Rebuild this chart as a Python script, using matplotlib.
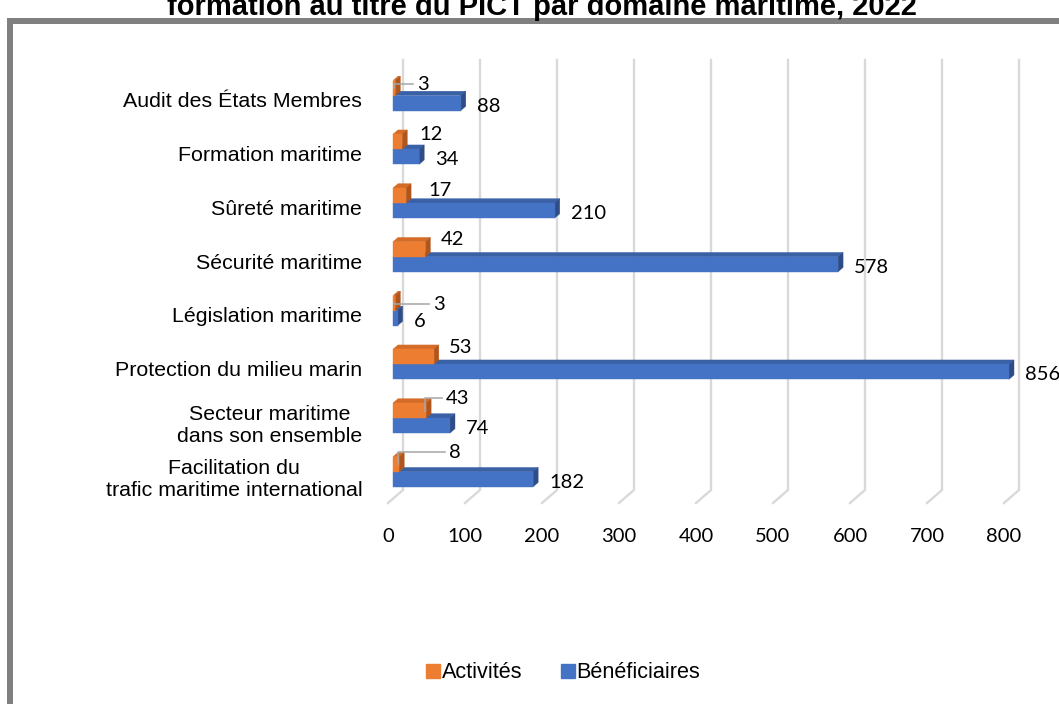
import numpy as np
import matplotlib
matplotlib.use("Agg")
import matplotlib.pyplot as plt
from matplotlib.patches import Polygon, Rectangle
from matplotlib.lines import Line2D

plt.rcParams['font.family'] = ['Liberation Sans', 'DejaVu Sans']

# ---- data ----
categories = [
    "Audit des États Membres",
    "Formation maritime",
    "Sûreté maritime",
    "Sécurité maritime",
    "Législation maritime",
    "Protection du milieu marin",
    "Secteur maritime\ndans son ensemble",
    "Facilitation du\ntrafic maritime international",
]
activites = [3, 12, 17, 42, 3, 53, 43, 8]
beneficiaires = [88, 34, 210, 578, 6, 856, 74, 182]
series_names = ["Activités", "Bénéficiaires"]
x_ticks = [0, 100, 200, 300, 400, 500, 600, 700, 800]
title = "formation au titre du PICT par domaine maritime, 2022"

# ---- style ----
ORANGE = dict(front="#ED7D31", top="#D46C27", side="#B0561C")
BLUE = dict(front="#4472C4", top="#3A60A6", side="#2E4C85")
GRID = "#D9D9D9"
LEADER = "#A6A6A6"
NUM_FONT = "Lato"
X_MAX = x_ticks[-1]

# hand-placed "Activités" labels (pixel shift right, pixel shift down) drawn with a leader line
moved_labels = {0: (7, 5.5), 4: (23, 10.5), 6: (5, -3), 7: (35, -2.5)}
# hand-placed labels without a leader line
nudged_labels = {2: (7, 4), 1: (2, 2)}

W, H = 1059, 704
DPI = 100
fig = plt.figure(figsize=(W / DPI, H / DPI), dpi=DPI)
PT = 72 / DPI  # points per pixel

# front plane of the 3-D plot area, in pixels
left_px, right_px, top_px, bottom_px = 388, 1004, 73, 503
ax = fig.add_axes([left_px / W, 1 - bottom_px / H,
                   (right_px - left_px) / W, (bottom_px - top_px) / H])
n = len(categories)
ax.set_xlim(0, X_MAX)
ax.set_ylim(n - 0.5, -0.5)
for s in ax.spines.values():
    s.set_visible(False)


def px_to_data(dx_px, dy_px):
    """Convert a screen shift (pixels, y up) into a data-space shift."""
    x0, y0 = ax.transData.transform((0, 0))
    x1, y1 = ax.transData.inverted().transform((x0 + dx_px, y0 + dy_px))
    return x1, y1


# depth of the chart box (front floor edge to back wall)
DX, DY = px_to_data(15, 13)
# bars occupy the middle third of the depth
FX, FY = DX / 3, DY / 3
BX, BY = DX / 3, DY / 3
bar_h = 15 / 53.75

# back wall grid lines with their floor segment
y_top, y_bot = -0.5, n - 0.5
for t in x_ticks:
    ax.plot([t + DX, t + DX, t], [y_top + DY, y_bot + DY, y_bot],
            color=GRID, lw=1.7, solid_joinstyle='miter', clip_on=False, zorder=1)


def bar3d(value, y_top_edge, y_bot_edge, colors, z):
    x0, x1 = FX, min(value, X_MAX) + FX
    ya, yb = y_top_edge + FY, y_bot_edge + FY
    top = [(x0, ya), (x1, ya), (x1 + BX, ya + BY), (x0 + BX, ya + BY)]
    side = [(x1, ya), (x1, yb), (x1 + BX, yb + BY), (x1 + BX, ya + BY)]
    front = [(x0, ya), (x1, ya), (x1, yb), (x0, yb)]
    for pts, c in ((top, colors["top"]), (side, colors["side"]), (front, colors["front"])):
        ax.add_patch(Polygon(pts, closed=True, facecolor=c, edgecolor=c,
                             lw=0.3, clip_on=False, zorder=z))
    return x1, x1 + BX, ya, yb


label_kw = dict(fontsize=14.5, family=NUM_FONT, color="#000000",
                textcoords="offset points", annotation_clip=False, zorder=6)

for i in range(n):
    # lower bar (Bénéficiaires), then upper bar (Activités) in front of its top face
    _, b_end, b_ya, b_yb = bar3d(beneficiaires[i], i, i + bar_h, BLUE, 3 + i * 0.01)
    o_front, o_end, o_ya, o_yb = bar3d(activites[i], i - bar_h, i, ORANGE, 3.005 + i * 0.01)

    ax.annotate(str(beneficiaires[i]), xy=(b_end, (b_ya + b_yb) / 2),
                xytext=(11 * PT, -3 * PT), ha="left", va="center", **label_kw)

    sx, sy = 10, -2  # default label position: right of the bar, level with its top
    if i in moved_labels:
        mx, my = moved_labels[i]
        sx, sy = sx + mx, sy + my
    elif i in nudged_labels:
        mx, my = nudged_labels[i]
        sx, sy = sx + mx, sy + my
    ax.annotate(str(activites[i]), xy=(o_end, o_ya),
                xytext=(sx * PT, -sy * PT), ha="left", va="center", **label_kw)

    if i in moved_labels:
        # leader line: from the bar end up/down to the label row, then across
        ddx, _ = px_to_data(-1, 0)
        lx, ly = px_to_data(sx - 4, -sy)
        start = (o_front + ddx, (o_ya + o_yb) / 2)
        corner = (o_front + ddx, o_ya + ly)
        end = (o_end + lx, o_ya + ly)
        ax.plot([start[0], corner[0], end[0]], [start[1], corner[1], end[1]],
                color=LEADER, lw=1.1, clip_on=False, zorder=5)

# axes ticks
ax.set_xticks(x_ticks)
ax.set_xticklabels([str(t) for t in x_ticks], family=NUM_FONT, fontsize=14.5)
ax.tick_params(axis="x", length=0, pad=18)
ax.set_yticks(range(n))
ax.set_yticklabels(categories, fontsize=15.4)
ax.tick_params(axis="y", length=0, pad=18.5)
for lab in ax.get_yticklabels():
    lab.set_multialignment("center")

# legend
handles = [Line2D([], [], marker="s", ls="", color=ORANGE["front"], markersize=10.5),
           Line2D([], [], marker="s", ls="", color=BLUE["front"], markersize=10.5)]
fig.legend(handles, series_names, loc="center", bbox_to_anchor=(563 / W, 1 - 673 / H),
           ncol=2, frameon=False, fontsize=15.6, handlelength=0.7, handletextpad=0.05,
           columnspacing=1.75)

# title and outer frame
fig.text(542 / W, 1 - 15 / H, title, ha="center", va="baseline",
         fontsize=21, fontweight="bold")
fig.add_artist(Rectangle((10 / W, -0.2), 1.5, 1.2 - 21 / H, transform=fig.transFigure,
                         fill=False, edgecolor="#808080", lw=6 * PT))

fig.savefig("out.png", dpi=DPI)
